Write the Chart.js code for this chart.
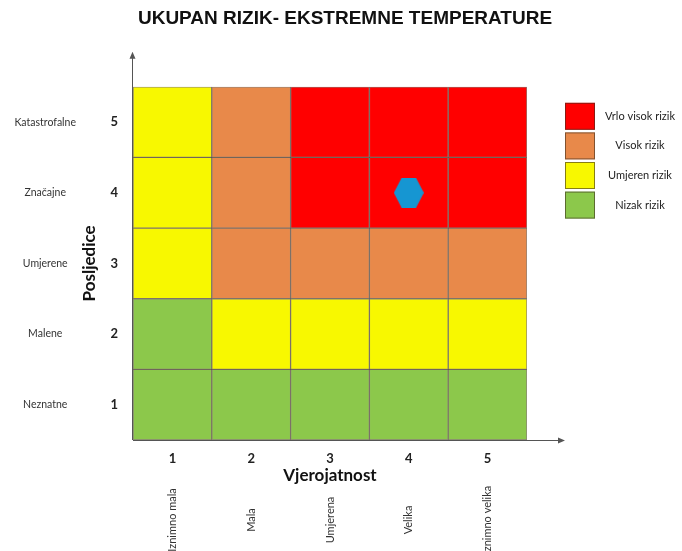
<!DOCTYPE html>
<html>
<head>
<meta charset="utf-8">
<title>Ukupan rizik - ekstremne temperature</title>
<script src="https://cdn.jsdelivr.net/npm/chart.js@4.4.1/dist/chart.umd.min.js"></script>
<style>
    html, body { margin: 0; padding: 0; background: #fff; }
    #wrap { width: 682px; height: 551px; }
</style>
</head>
<body>
<div id="wrap"><canvas id="riskChart"></canvas></div>
<script>
// --- Data ---
const probabilityLevels = ['1', '2', '3', '4', '5'];
const probabilityNames = ['Iznimno mala', 'Mala', 'Umjerena', 'Velika', 'Iznimno velika'];
const consequenceLevels = [1, 2, 3, 4, 5];
const consequenceNames = ['Neznatne', 'Malene', 'Umjerene', 'Značajne', 'Katastrofalne'];
const riskNames = ['Vrlo visok rizik', 'Visok rizik', 'Umjeren rizik', 'Nizak rizik'];
// risk class of each cell: rows = posljedice 1..5, columns = vjerojatnost 1..5
// 0 = vrlo visok, 1 = visok, 2 = umjeren, 3 = nizak
const riskMatrix = [
    [3, 3, 3, 3, 3],
    [3, 2, 2, 2, 2],
    [2, 1, 1, 1, 1],
    [2, 1, 0, 0, 0],
    [2, 1, 0, 0, 0]
];
const assessedProbability = '4';
const assessedConsequence = 4;

// --- Styles ---
const riskColors = ['#ff0000', '#e8894a', '#f8f800', '#8cc84b'];
const cellBorder = 'rgba(60, 45, 30, 0.6)';
const markerColor = '#1696d2';
const textFont = 'Lato, "Open Sans", sans-serif';

function hexagon(w, h, color) {
    const c = document.createElement('canvas');
    c.width = w;
    c.height = h;
    const g = c.getContext('2d');
    g.fillStyle = color;
    g.beginPath();
    g.moveTo(0, h / 2);
    g.lineTo(w * 0.26, 0);
    g.lineTo(w * 0.74, 0);
    g.lineTo(w, h / 2);
    g.lineTo(w * 0.74, h);
    g.lineTo(w * 0.26, h);
    g.closePath();
    g.fill();
    return c;
}

// one floating-bar dataset per consequence row
const rowDatasets = consequenceLevels.map((level, r) => ({
    type: 'bar',
    label: consequenceNames[r],
    data: probabilityLevels.map(() => [level - 0.5, level + 0.5]),
    backgroundColor: riskMatrix[r].map(k => riskColors[k]),
    borderColor: cellBorder,
    borderWidth: 1,
    borderSkipped: false,
    categoryPercentage: 1,
    barPercentage: 1,
    order: 1
}));

const markerDataset = {
    type: 'line',
    label: 'Procjena',
    data: probabilityLevels.map(p => (p === assessedProbability ? assessedConsequence : null)),
    showLine: false,
    pointStyle: hexagon(30, 30, markerColor),
    pointRadius: 15,
    order: 0
};

// axis arrows, rotated labels under the x axis and the risk legend
const extrasPlugin = {
    id: 'extras',
    afterDraw(chart) {
        const { ctx, chartArea: a, scales: { x } } = chart;
        ctx.save();
        ctx.strokeStyle = '#555';
        ctx.fillStyle = '#555';
        ctx.lineWidth = 1;

        const yTip = a.top - 35;
        ctx.beginPath();
        ctx.moveTo(a.left - 0.5, a.bottom);
        ctx.lineTo(a.left - 0.5, yTip + 4);
        ctx.moveTo(a.left, a.bottom + 0.5);
        ctx.lineTo(a.right + 34, a.bottom + 0.5);
        ctx.stroke();

        ctx.beginPath();
        ctx.moveTo(a.left - 0.5, yTip);
        ctx.lineTo(a.left - 3.5, yTip + 7);
        ctx.lineTo(a.left + 2.5, yTip + 7);
        ctx.closePath();
        const xTip = a.right + 38;
        ctx.moveTo(xTip, a.bottom + 0.5);
        ctx.lineTo(xTip - 7, a.bottom - 2.5);
        ctx.lineTo(xTip - 7, a.bottom + 3.5);
        ctx.closePath();
        ctx.fill();

        ctx.fillStyle = '#333';
        ctx.font = '11px ' + textFont;
        ctx.textAlign = 'center';
        ctx.textBaseline = 'middle';
        probabilityNames.forEach((name, i) => {
            ctx.save();
            ctx.translate(x.getPixelForTick(i), x.bottom + 30);
            ctx.rotate(-Math.PI / 2);
            ctx.fillText(name, 0, 0);
            ctx.restore();
        });

        // legend
        const lx = a.right + 38;
        ctx.font = '11px ' + textFont;
        riskNames.forEach((name, i) => {
            const ly = a.top + 16 + i * 29.6;
            ctx.fillStyle = riskColors[i];
            ctx.fillRect(lx, ly, 30, 27);
            ctx.strokeStyle = cellBorder;
            ctx.strokeRect(lx + 0.5, ly + 0.5, 29, 26);
            ctx.fillStyle = '#222';
            ctx.fillText(name, lx + 75, ly + 13.5);
        });
        ctx.restore();
    }
};

const fixedTicks = s => { s.ticks = consequenceLevels.map(v => ({ value: v })); };

new Chart(document.getElementById('riskChart'), {
    data: {
        labels: probabilityLevels,
        datasets: [markerDataset, ...rowDatasets]
    },
    options: {
        responsive: true,
        maintainAspectRatio: false,
        animation: false,
        layout: { padding: { top: 0, right: 0, bottom: 61, left: 8 } },
        plugins: {
            title: {
                display: true,
                text: 'UKUPAN RIZIK- EKSTREMNE TEMPERATURE',
                color: '#111',
                font: { family: '"Liberation Sans Narrow", "Liberation Sans", sans-serif', size: 19, weight: 'bold' },
                padding: { top: 7, bottom: 57 }
            },
            legend: { display: false },
            tooltip: { enabled: false }
        },
        scales: {
            x: {
                stacked: true,
                grid: { display: false, drawTicks: false },
                border: { display: false },
                ticks: { padding: 11, color: '#222', font: { family: textFont, size: 13, weight: 'bold' } },
                title: {
                    display: true,
                    text: 'Vjerojatnost',
                    color: '#111',
                    font: { family: textFont, size: 17, weight: 'bold' },
                    padding: { top: 0, bottom: 4 }
                },
                afterFit: s => { s.height = 50; }
            },
            y: {
                type: 'linear',
                position: 'left',
                weight: 0,
                min: 0.5,
                max: 5.5,
                grid: { display: false, drawTicks: false },
                border: { display: false },
                afterBuildTicks: fixedTicks,
                ticks: { padding: 15, color: '#222', font: { family: textFont, size: 13, weight: 'bold' } },
                title: {
                    display: true,
                    text: 'Posljedice',
                    color: '#111',
                    font: { family: textFont, size: 17, weight: 'bold' },
                    padding: 0
                },
                afterFit: s => { s.width = 54; }
            },
            yName: {
                type: 'linear',
                position: 'left',
                weight: 1,
                min: 0.5,
                max: 5.5,
                grid: { display: false, drawTicks: false },
                border: { display: false },
                afterBuildTicks: fixedTicks,
                ticks: {
                    crossAlign: 'center',
                    padding: 3,
                    color: '#333',
                    font: { family: textFont, size: 10.5 },
                    callback: v => consequenceNames[consequenceLevels.indexOf(v)]
                },
                afterFit: s => { s.width = 71; }
            },
            legendSpace: {
                type: 'linear',
                position: 'right',
                grid: { display: false, drawTicks: false },
                border: { display: false },
                ticks: { display: false },
                afterFit: s => { s.width = 155; }
            }
        }
    },
    plugins: [extrasPlugin]
});
</script>
</body>
</html>
